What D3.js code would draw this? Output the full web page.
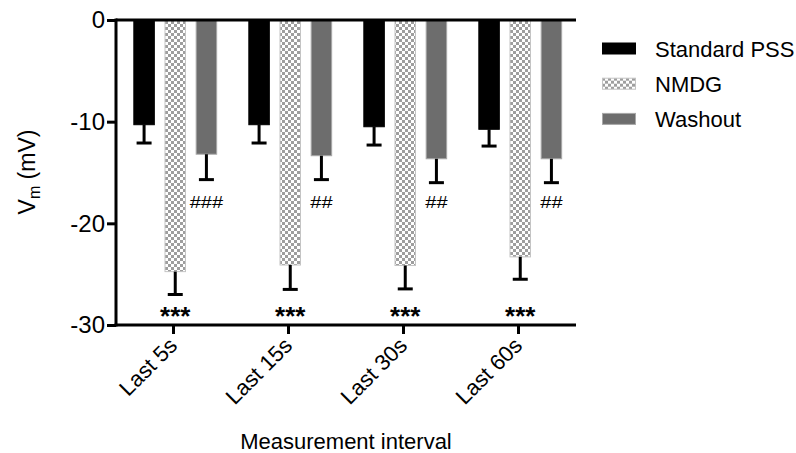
<!DOCTYPE html>
<html>
<head>
<meta charset="utf-8">
<script src="https://cdn.jsdelivr.net/npm/d3@7"></script>
<style>
  body { margin: 0; background: #fff; }
  text { font-family: "Liberation Sans", Arial, Helvetica, sans-serif; fill: #000; }
</style>
</head>
<body>
<div id="chart"></div>
<script>
(function () {

  // Data

  var categories = ["Last 5s", "Last 15s", "Last 30s", "Last 60s"]
  var seriesNames = ["Standard PSS", "NMDG", "Washout"]

  var pssMean = [-10.3, -10.3, -10.5, -10.75]
  var pssSem = [1.8, 1.8, 1.8, 1.65]
  var nmdgMean = [-24.75, -24.1, -24.15, -23.3]
  var nmdgSem = [2.25, 2.4, 2.3, 2.2]
  var washMean = [-13.2, -13.35, -13.65, -13.65]
  var washSem = [2.5, 2.35, 2.35, 2.35]

  var nmdgSig = ["***", "***", "***", "***"]
  var washSig = ["###", "##", "##", "##"]

  var yTicks = [0, -10, -20, -30]

  // Build rows

  var means = [pssMean, nmdgMean, washMean]
  var sems = [pssSem, nmdgSem, washSem]
  var rows = []
  categories.forEach(function (c, i) {
    seriesNames.forEach(function (s, j) {
      rows.push({ cat: c, series: s, mean: means[j][i], sem: sems[j][i] })
    })
  })

  var width = 796,
      height = 453

  var svg = d3.select("#chart").append("svg")
      .attr("width", width)
      .attr("height", height)

  var defs = svg.append("defs")
  var pat = defs.append("pattern")
      .attr("id", "checker")
      .attr("patternUnits", "userSpaceOnUse")
      .attr("width", 6)
      .attr("height", 6)
  pat.append("rect").attr("width", 6).attr("height", 6).attr("fill", "#fff")
  pat.append("rect").attr("width", 3).attr("height", 3).attr("fill", "#9e9e9e")
  pat.append("rect").attr("x", 3).attr("y", 3).attr("width", 3).attr("height", 3).attr("fill", "#9e9e9e")

  // Scales

  var x0 = d3.scaleBand()
    .domain(categories)
    .range([116, 576])

  var x1 = d3.scaleBand()
    .domain(seriesNames)
    .range([12.5, 106])
    .paddingInner(0.31)
    .paddingOuter(0.155)

  var y = d3.scaleLinear()
    .domain([-30, 0])
    .range([325, 20])

  var fillScale = d3.scaleOrdinal()
    .domain(seriesNames)
    .range(["#000", "url(#checker)", "#6d6d6d"])

  var strokeScale = d3.scaleOrdinal()
    .domain(seriesNames)
    .range(["#000", "#c4c4c4", "#a8a8a8"])

  // Bars

  svg.selectAll(".bar")
    .data(rows)
    .enter().append("rect")
    .attr("class", "bar")
    .attr("x", function (d) { return x0(d.cat) + x1(d.series) + 0.5 })
    .attr("y", y(0))
    .attr("width", x1.bandwidth() - 1)
    .attr("height", function (d) { return y(d.mean) - y(0) })
    .attr("fill", function (d) { return fillScale(d.series) })
    .attr("stroke", function (d) { return strokeScale(d.series) })
    .attr("stroke-width", 1)

  // Error bars

  var cx = function (d) { return x0(d.cat) + x1(d.series) + x1.bandwidth() / 2 }

  svg.selectAll(".err")
    .data(rows)
    .enter().append("line")
    .attr("class", "err")
    .attr("x1", cx)
    .attr("x2", cx)
    .attr("y1", function (d) { return y(d.mean) })
    .attr("y2", function (d) { return y(d.mean - d.sem) })
    .attr("stroke", "#000")
    .attr("stroke-width", 3)

  svg.selectAll(".cap")
    .data(rows)
    .enter().append("line")
    .attr("class", "cap")
    .attr("x1", function (d) { return cx(d) - 7.5 })
    .attr("x2", function (d) { return cx(d) + 7.5 })
    .attr("y1", function (d) { return y(d.mean - d.sem) })
    .attr("y2", function (d) { return y(d.mean - d.sem) })
    .attr("stroke", "#000")
    .attr("stroke-width", 3)

  // Significance marks

  svg.selectAll(".star")
    .data(categories)
    .enter().append("text")
    .attr("class", "star")
    .attr("x", function (d) { return x0(d) + x1("NMDG") + x1.bandwidth() / 2 })
    .attr("y", 325)
    .attr("text-anchor", "middle")
    .style("font-size", "26px")
    .style("font-weight", "bold")
    .text(function (d, i) { return nmdgSig[i] })

  svg.selectAll(".hash")
    .data(categories)
    .enter().append("text")
    .attr("class", "hash")
    .attr("transform", function (d) {
      return "translate(" + (x0(d) + x1("Washout") + x1.bandwidth() / 2) + ",208) scale(1,0.82)"
    })
    .attr("text-anchor", "middle")
    .style("font-size", "20px")
    .text(function (d, i) { return washSig[i] })

  // Axes

  svg.append("line")
    .attr("x1", 116).attr("x2", 576)
    .attr("y1", y(0)).attr("y2", y(0))
    .attr("stroke", "#000").attr("stroke-width", 3)

  var yAxis = svg.append("g")
    .attr("transform", "translate(116,0)")
    .call(d3.axisLeft(y).tickValues(yTicks).tickSize(9).tickPadding(2).tickFormat(function (d) { return String(d) }))
  yAxis.select(".domain").attr("stroke-width", 3).attr("d", "M0," + (y(0) - 1.5) + "V" + (y(-30) + 1.5))
  yAxis.selectAll(".tick line").attr("stroke-width", 3)
  yAxis.selectAll(".tick text")
    .style("font-size", "24px")
    .style("font-family", "'Liberation Sans', Arial, sans-serif")

  var xAxis = svg.append("g")
    .attr("transform", "translate(0," + y(-30) + ")")
    .call(d3.axisBottom(x0).tickSize(9).tickFormat(""))
  xAxis.select(".domain").attr("stroke-width", 3).attr("d", "M114.5,0H576")
  xAxis.selectAll(".tick line").attr("stroke-width", 3)

  svg.selectAll(".xlabel")
    .data(categories)
    .enter().append("text")
    .attr("class", "xlabel")
    .attr("transform", function (d) {
      return "translate(" + (x0(d) + x0.bandwidth() / 2 + 5) + ",347) rotate(-45)"
    })
    .attr("text-anchor", "end")
    .style("font-size", "22px")
    .text(function (d) { return d })

  // Axis titles

  svg.append("text")
    .attr("x", 346)
    .attr("y", 449)
    .attr("text-anchor", "middle")
    .style("font-size", "22px")
    .text("Measurement interval")

  var yt = svg.append("text")
    .attr("transform", "translate(35,172) rotate(-90)")
    .attr("text-anchor", "middle")
    .style("font-size", "23px")
  yt.append("tspan").text("V")
  yt.append("tspan").attr("dy", 5).style("font-size", "16px").text("m")
  yt.append("tspan").attr("dy", -5).text(" (mV)")

  // Legend

  var legend = svg.selectAll(".legend")
    .data(seriesNames)
    .enter().append("g")
    .attr("class", "legend")
    .attr("transform", function (d, i) { return "translate(602," + (48.5 + i * 35.2) + ")" })

  legend.append("rect")
    .attr("x", 0.5)
    .attr("y", -5.5)
    .attr("width", 33)
    .attr("height", 11)
    .attr("fill", function (d) { return fillScale(d) })
    .attr("stroke", function (d) { return strokeScale(d) })

  legend.append("text")
    .attr("x", 53)
    .attr("y", 8)
    .style("font-size", "22px")
    .text(function (d) { return d })

})()
</script>
</body>
</html>
